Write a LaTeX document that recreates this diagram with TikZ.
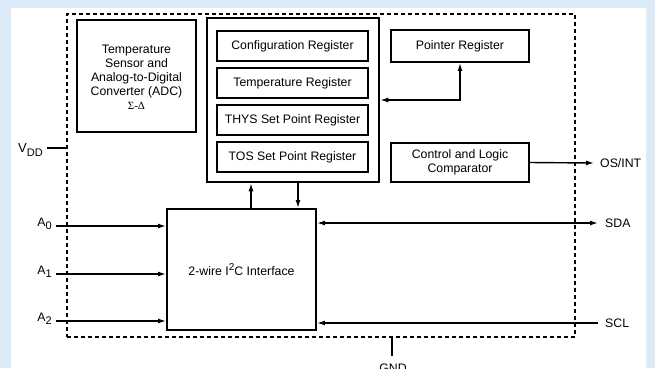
\documentclass[tikz,border=0pt]{standalone}
\usepackage{fontspec}
\setmainfont{Liberation Sans}
\newfontfamily\serifgr{Liberation Serif}
\usetikzlibrary{arrows.meta}
\definecolor{bgblue}{RGB}{221,235,248}
\newcommand{\lowsub}[1]{\raisebox{-3.5pt}{\fontsize{11}{11}\selectfont #1}}
\begin{document}
\begin{tikzpicture}[x=1pt,y=-1pt,
  font=\fontsize{12.3}{14}\selectfont,
  blockbox/.style={draw, line width=1.9pt, inner sep=0pt, align=center},
  regbox/.style={draw, line width=1.6pt, inner sep=0pt, minimum width=151pt, minimum height=30pt},
  framebox/.style={draw, line width=2.5pt, inner sep=0pt},
  chipbox/.style={draw, line width=1.3pt, dash pattern=on 4pt off 3pt, inner sep=0pt},
  wire/.style={line width=1.4pt},
  tip/.style={-{Latex[length=8pt,width=5pt]}},
  dtip/.style={{Latex[length=8pt,width=5pt]}-{Latex[length=8pt,width=5pt]}},
  lbl/.style={inner sep=0pt}]
\useasboundingbox (0,0) rectangle (655,368);
\fill[bgblue] (0,0) rectangle (655,368);
\fill[white] (11,8) rectangle (646,368);

% dashed chip outline
\node[chipbox, minimum width=508pt, minimum height=323pt] (chip) at (321,175.5) {};

% blocks
\node[blockbox, minimum width=119pt, minimum height=112pt] (adc) at (136.5,76) {};
\node[lbl, align=center, anchor=north] (adctxt) at (136.5,44.5) {Temperature\\Sensor and\\Analog-to-Digital\\Converter (ADC)\\[0pt]{\serifgr\fontsize{11}{11}\selectfont Σ-Δ}};
\node[framebox, minimum width=172pt, minimum height=164pt] (frame) at (293,100) {};
\node[regbox] (cfg) at (292.5,46) {Configuration Register};
\node[regbox] (tmp) at (292.5,83) {Temperature Register};
\node[regbox] (thys) at (292.5,120) {THYS Set Point Register};
\node[regbox] (tos) at (292.5,157) {TOS Set Point Register};
\node[blockbox, minimum width=138pt, minimum height=32pt] (pointer) at (460,46) {Pointer Register};
\node[blockbox, minimum width=138pt, minimum height=39pt] (ctrl) at (460,162.5) {Control and Logic\\Comparator};
\node[blockbox, minimum width=149pt, minimum height=121pt] (i2c) at (241.5,269.5) {2-wire I\raisebox{5pt}{\fontsize{10}{10}\selectfont 2}C Interface};

% pins
\node[lbl, anchor=east] (vdd) at (43,150) {\fontsize{13}{13}\selectfont V\lowsub{DD}};
\node[lbl, anchor=east] (a0) at (52,224) {A\lowsub{0}};
\node[lbl, anchor=east] (a1) at (52,272) {A\lowsub{1}};
\node[lbl, anchor=east] (a2) at (52,319) {A\lowsub{2}};
\node[lbl, anchor=west] (osint) at (600,163) {OS/INT};
\node[lbl, anchor=west] (sda) at (605,223) {SDA};
\node[lbl, anchor=west] (scl) at (605,323) {SCL};
\node[lbl, anchor=base] (gnd) at (393,372) {GND};

\coordinate (vddend) at (67,148);
\coordinate (gndtop) at (392,337);
\coordinate (gndbot) at (392,356);
\coordinate (sdaend) at (598,223);
\coordinate (sclend) at (598,323);
\coordinate (osend) at (594,163);
\coordinate (upx) at (251,0);
\coordinate (downx) at (298,0);

% connectors
\draw[wire] (47,148) -- (vddend);
\draw[wire] (gndtop) -- (gndbot);
\draw[wire, tip] (56,226) -- (56,226 -| i2c.west);
\draw[wire, tip] (56,274) -- (56,274 -| i2c.west);
\draw[wire, tip] (56,321) -- (56,321 -| i2c.west);
\draw[wire, dtip] (i2c.east |- sdaend) -- (sdaend);
\draw[wire, tip] (sclend) -- (i2c.east |- sclend);
\draw[wire, tip] (ctrl.east) -- (osend);
\draw[wire, dtip] (frame.east) -| (pointer.south);
\draw[wire, tip] (i2c.north -| upx) -- (frame.south -| upx);
\draw[wire, tip] (frame.south -| downx) -- (i2c.north -| downx);
\end{tikzpicture}
\end{document}
